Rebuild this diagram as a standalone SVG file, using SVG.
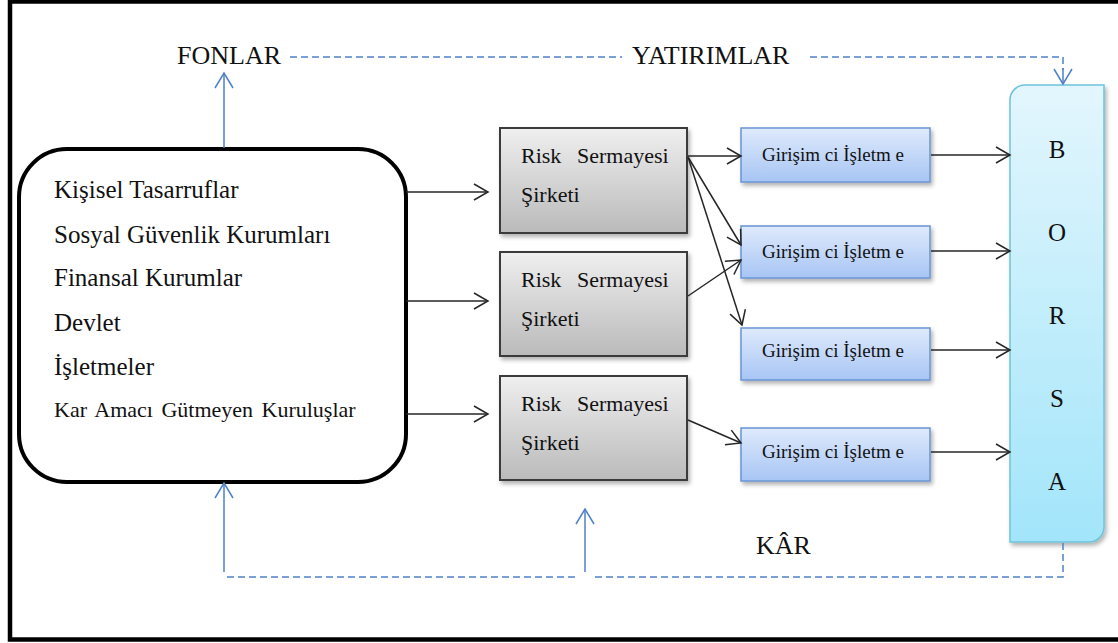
<svg xmlns="http://www.w3.org/2000/svg" width="1118" height="643" viewBox="0 0 1118 643">
  <style>
    text { font-family: 'Liberation Serif', 'Times New Roman', serif; fill: #111; }
    .lbl { font-size: 26px; }
    .src { font-size: 25px; }
    .rsk { font-size: 22px; }
    .gir { font-size: 19px; }
    .flow { fill: none; stroke: #262626; stroke-width: 1.5; marker-end: url(#ahBlack); }
    .blue { fill: none; stroke: #4f81c7; stroke-width: 1.5; }
    .dash { stroke-dasharray: 7 4; }
    .up { marker-end: url(#ahBlue); }
    .riskBox { fill: url(#gGray); stroke: #3a3a3a; stroke-width: 2; filter: url(#shadow); }
    .girBox { fill: url(#gBlue); stroke: #6a94d4; stroke-width: 1.5; filter: url(#shadow); }
  </style>
  <defs>
    <linearGradient id="gGray" x1="0" y1="0" x2="0" y2="1">
      <stop offset="0" stop-color="#efefef"/>
      <stop offset="1" stop-color="#bababa"/>
    </linearGradient>
    <linearGradient id="gBlue" x1="0" y1="0" x2="0" y2="1">
      <stop offset="0" stop-color="#dfeafc"/>
      <stop offset="1" stop-color="#a7c5f4"/>
    </linearGradient>
    <linearGradient id="gCyan" x1="0" y1="0" x2="0" y2="1">
      <stop offset="0" stop-color="#e3f6fd"/>
      <stop offset="1" stop-color="#a2e5fa"/>
    </linearGradient>
    <filter id="shadow" x="-10%" y="-10%" width="130%" height="140%">
      <feDropShadow dx="2" dy="3" stdDeviation="2" flood-color="#000" flood-opacity="0.3"/>
    </filter>
    <marker id="ahBlack" markerUnits="userSpaceOnUse" viewBox="0 0 20 20" markerWidth="20" markerHeight="20" refX="17" refY="10" orient="auto">
      <path d="M3,2 L17,10 L3,18" fill="none" stroke="#262626" stroke-width="1.5"/>
    </marker>
    <marker id="ahBlue" markerUnits="userSpaceOnUse" viewBox="0 0 20 20" markerWidth="20" markerHeight="20" refX="17" refY="10" orient="auto">
      <path d="M2,1 L17,10 L2,19" fill="none" stroke="#4f81c7" stroke-width="1.5"/>
    </marker>
  </defs>

  <rect width="1118" height="643" fill="#fff"/>
  <!-- outer frame -->
  <rect x="10" y="1.5" width="1115" height="638" fill="none" stroke="#000" stroke-width="4.5"/>

  <!-- flow labels -->
  <text class="lbl" x="177" y="64">FONLAR</text>
  <text class="lbl" x="632" y="64">YATIRIMLAR</text>
  <text class="lbl" x="756" y="554">KÂR</text>

  <!-- fund sources -->
  <g id="sources">
    <rect x="19" y="149" width="387" height="333" rx="48" ry="48" fill="#fff" stroke="#000" stroke-width="4"/>
    <text class="src" x="54" y="198">Kişisel Tasarruflar</text>
    <text class="src" x="54" y="243">Sosyal Güvenlik Kurumları</text>
    <text class="src" x="54" y="286">Finansal Kurumlar</text>
    <text class="src" x="54" y="331">Devlet</text>
    <text class="src" x="54" y="375">İşletmeler</text>
    <text x="54" y="417" font-size="22" word-spacing="3">Kar Amacı Gütmeyen Kuruluşlar</text>
  </g>

  <!-- venture capital firms -->
  <g id="risk1">
    <rect class="riskBox" x="500" y="128" width="187" height="105"/>
    <text class="rsk" y="163"><tspan x="521">Risk</tspan><tspan x="577">Sermayesi</tspan></text>
    <text class="rsk" x="521" y="202">Şirketi</text>
  </g>
  <g id="risk2">
    <rect class="riskBox" x="500" y="252" width="187" height="104"/>
    <text class="rsk" y="287"><tspan x="521">Risk</tspan><tspan x="577">Sermayesi</tspan></text>
    <text class="rsk" x="521" y="326">Şirketi</text>
  </g>
  <g id="risk3">
    <rect class="riskBox" x="500" y="376" width="187" height="104"/>
    <text class="rsk" y="411"><tspan x="521">Risk</tspan><tspan x="577">Sermayesi</tspan></text>
    <text class="rsk" x="521" y="450">Şirketi</text>
  </g>

  <!-- entrepreneurial firms -->
  <g id="girisim1">
    <rect class="girBox" x="741" y="128" width="189" height="54"/>
    <text class="gir" x="762" y="161">Girişim ci İşletm e</text>
  </g>
  <g id="girisim2">
    <rect class="girBox" x="741" y="226" width="189" height="52"/>
    <text class="gir" x="762" y="258">Girişim ci İşletm e</text>
  </g>
  <g id="girisim3">
    <rect class="girBox" x="741" y="328" width="189" height="52"/>
    <text class="gir" x="762" y="357">Girişim ci İşletm e</text>
  </g>
  <g id="girisim4">
    <rect class="girBox" x="741" y="428" width="189" height="53"/>
    <text class="gir" x="762" y="458">Girişim ci İşletm e</text>
  </g>

  <!-- stock exchange -->
  <g id="borsa">
    <path d="M1025,85 H1104 V527 A15,15 0 0 1 1089,542 H1010 V100 A15,15 0 0 1 1025,85 Z" fill="url(#gCyan)" stroke="#6ec3dc" stroke-width="1.5" filter="url(#shadow)"/>
    <g text-anchor="middle">
      <text class="src" x="1057" y="158">B</text>
      <text class="src" x="1057" y="241">O</text>
      <text class="src" x="1057" y="324">R</text>
      <text class="src" x="1057" y="407">S</text>
      <text class="src" x="1057" y="490">A</text>
    </g>
  </g>

  <g id="connectors">
    <!-- sources to venture capital -->
    <path class="flow" d="M406,192 H488"/>
    <path class="flow" d="M406,301 H488"/>
    <path class="flow" d="M406,414 H488"/>
    <!-- venture capital to firms -->
    <path class="flow" d="M688,156 H741"/>
    <path class="flow" d="M688,157 L741,245"/>
    <path class="flow" d="M688,157 L742,325"/>
    <path class="flow" d="M688,296 L741,260"/>
    <path class="flow" d="M688,420 L741,443"/>
    <!-- firms to exchange -->
    <path class="flow" d="M931,155 H1010"/>
    <path class="flow" d="M931,251 H1010"/>
    <path class="flow" d="M931,350 H1010"/>
    <path class="flow" d="M931,452 H1010"/>
    <!-- funds -->
    <path class="blue up" d="M224,148 V73"/>
    <!-- investments -->
    <path class="blue dash" d="M290,57 H622"/>
    <path class="blue dash" d="M810,57 H1063 V70"/>
    <path class="blue up" d="M1063,68 V84"/>
    <!-- profit returns -->
    <path class="blue dash" d="M1063,543 V577 H592"/>
    <path class="blue dash" d="M575,577 H224"/>
    <path class="blue up" d="M224,572 V483"/>
    <path class="blue up" d="M585,572 V509"/>
  </g>
</svg>
